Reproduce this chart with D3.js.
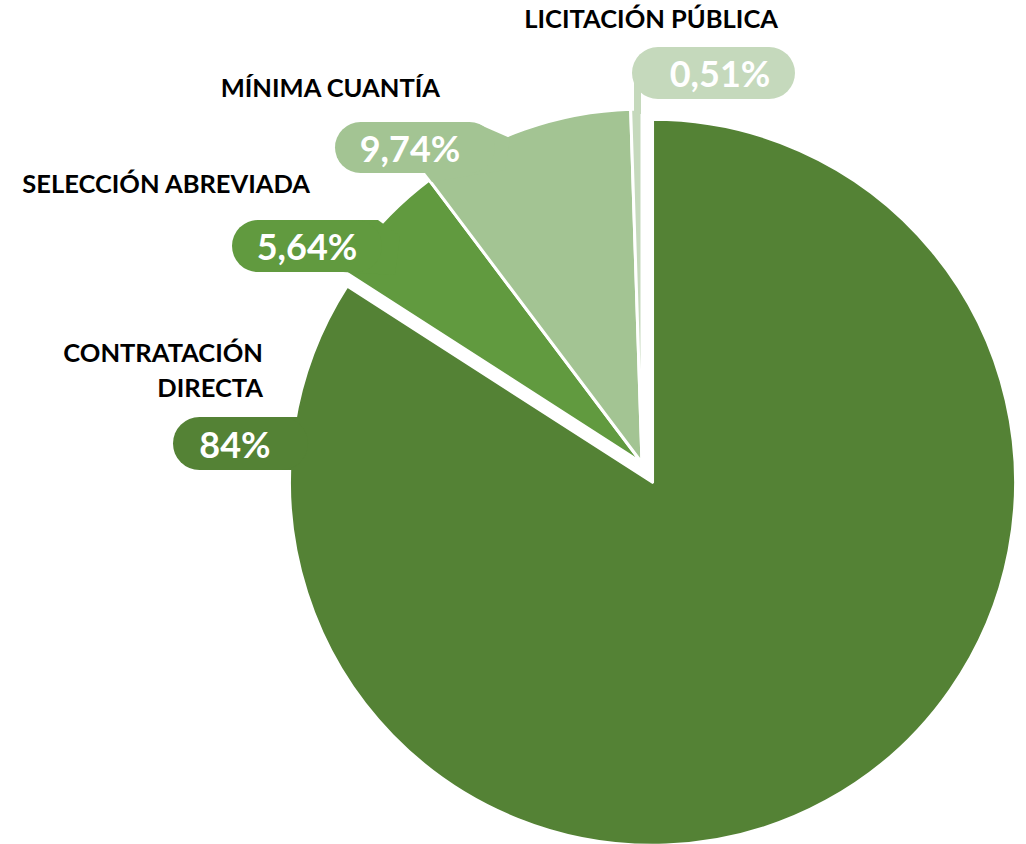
<!DOCTYPE html>
<html>
<head>
<meta charset="utf-8">
<script src="https://cdn.jsdelivr.net/npm/d3@7"></script>
<style>
  body { margin: 0; background: #fff; }
  svg { display: block; }
  .cat { font-family: Lato, "Liberation Sans", sans-serif; font-weight: 700; fill: #000; }
  .pct { font-family: Lato, "Liberation Sans", sans-serif; font-weight: 700; fill: #fff; }
</style>
</head>
<body>
<div id="chart"></div>
<script>
// chart data
var categories = ["CONTRATACIÓN DIRECTA", "SELECCIÓN ABREVIADA", "MÍNIMA CUANTÍA", "LICITACIÓN PÚBLICA"];
var values = [84, 5.64, 9.74, 0.51];
var valueLabels = ["84%", "5,64%", "9,74%", "0,51%"];
var colors = ["#548235", "#619a3f", "#a3c493", "#c5d9bc"];

var width = 1026, height = 844;

var svg = d3.select("#chart").append("svg")
	.attr("width", width)
	.attr("height", height);

/*
 * Pie, the first slice pulled out from the centre
 */
var cx = 642, cy = 463,
	radius = 354,
	bigRadius = 363,
	explode = 22;

var pie = d3.pie().sort(null).startAngle(0).endAngle(2 * Math.PI);
var arcs = pie(values);

var slices = svg.append("g")
	.attr("transform", "translate(" + cx + "," + cy + ")");

slices.selectAll("path")
	.data(arcs)
	.enter().append("path")
		.attr("d", function(d, i) {
			return d3.arc().innerRadius(0).outerRadius(i === 0 ? bigRadius : radius)(d);
		})
		.attr("transform", function(d, i) {
			if(i !== 0) return null;
			var mid = (d.startAngle + d.endAngle) / 2;
			return "translate(" + (Math.sin(mid) * explode) + "," + (-Math.cos(mid) * explode) + ")";
		})
		.attr("fill", function(d, i) { return colors[i]; })
		.attr("stroke", "#fff")
		.attr("stroke-width", 3)
		.attr("stroke-linejoin", "round");

/*
 * Callout labels: a pill with the value and a category caption above
 */
var callouts = [
	{ box: [173, 417, 135, 53], text: [235, 458], cap: [[263, 362, "CONTRATACIÓN"], [263, 397, "DIRECTA"]],
	  tail: [[280, 417], [310, 417], [310, 470], [280, 470]] },
	{ box: [232, 220, 150, 52], text: [307, 260], cap: [[310, 193, "SELECCIÓN ABREVIADA"]],
	  tail: [[350, 220], [378, 220], [400, 236], [395, 275], [343, 272]] },
	{ box: [335, 122, 160, 51], text: [410, 162], cap: [[440, 97, "MÍNIMA CUANTÍA"]],
	  tail: [[460, 122], [478, 124], [510, 138], [505, 170], [432, 182], [425, 173]] },
	{ box: [632, 47, 163, 52], text: [720, 87], cap: [[778, 28, "LICITACIÓN PÚBLICA"]],
	  tail: [[634, 70], [641, 70], [641, 114], [634, 114]] }
];

var labels = svg.append("g");

callouts.forEach(function(c, i) {
	var g = labels.append("g");
	g.append("polygon")
		.attr("points", c.tail.map(function(p) { return p.join(","); }).join(" "))
		.attr("fill", colors[i]);
	g.append("rect")
		.attr("x", c.box[0])
		.attr("y", c.box[1])
		.attr("width", c.box[2])
		.attr("height", c.box[3])
		.attr("rx", c.box[3] / 2)
		.attr("fill", colors[i]);
	g.append("text")
		.attr("class", "pct")
		.attr("x", c.text[0])
		.attr("y", c.text[1])
		.attr("text-anchor", "middle")
		.style("font-size", "36px")
		.text(valueLabels[i]);
	c.cap.forEach(function(t) {
		g.append("text")
			.attr("class", "cat")
			.attr("x", t[0])
			.attr("y", t[1])
			.attr("text-anchor", "end")
			.style("font-size", "25.5px")
			.text(t[2]);
	});
});
</script>
</body>
</html>
